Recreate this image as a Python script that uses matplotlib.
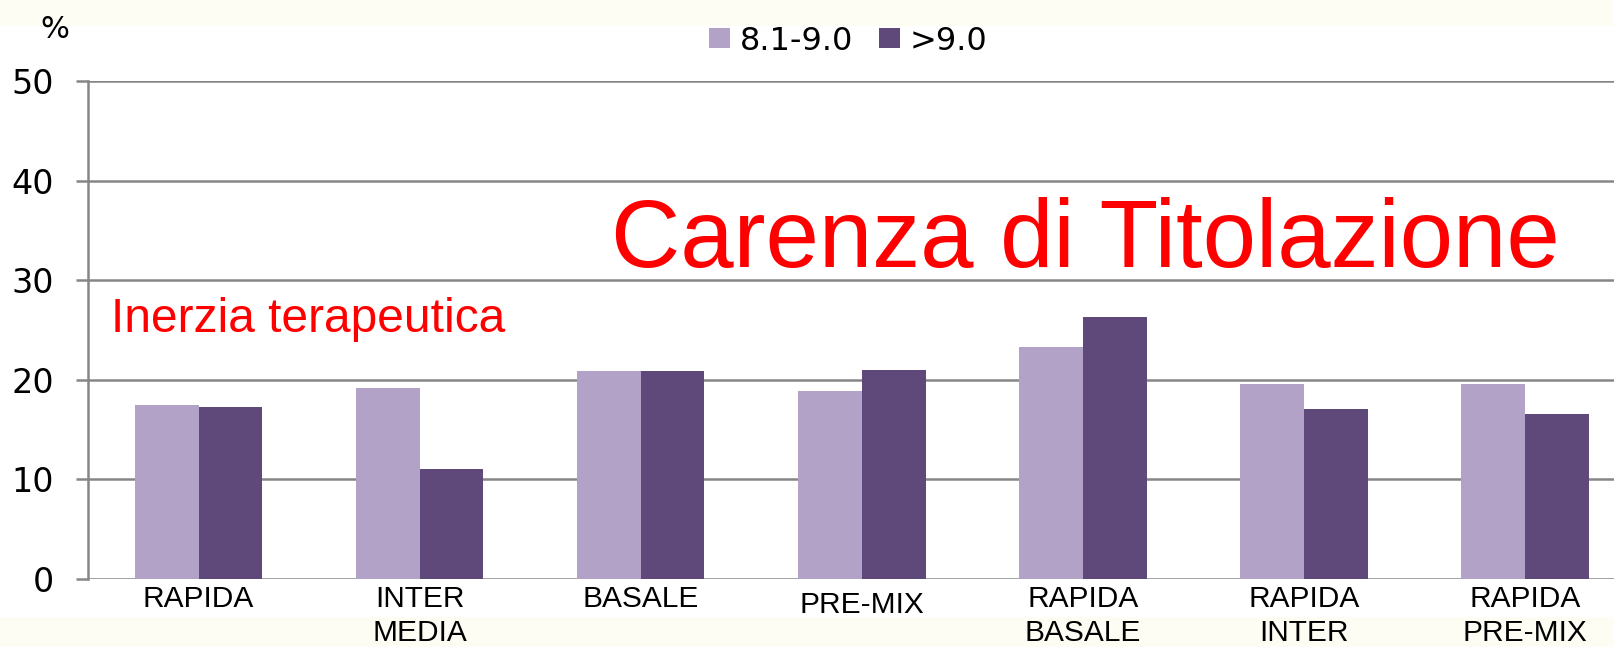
import matplotlib
matplotlib.use("Agg")
import matplotlib.pyplot as plt
from matplotlib.patches import Rectangle
from matplotlib.transforms import ScaledTranslation
import numpy as np

categories = ["RAPIDA", "INTER\nMEDIA", "BASALE", "PRE-MIX", "RAPIDA\nBASALE", "RAPIDA\nINTER", "RAPIDA\nPRE-MIX"]
series_labels = ["8.1-9.0", ">9.0"]
values_81_90 = [17.5, 19.2, 20.9, 18.9, 23.3, 19.6, 19.6]
values_gt90 = [17.3, 11.0, 20.9, 21.0, 26.3, 17.1, 16.6]
yticks = [0, 10, 20, 30, 40, 50]

light = "#b2a2c7"
dark = "#5f497a"
grid = "#868686"
cream = "#fdfdf3"

W, H = 1615, 647
fig = plt.figure(figsize=(W / 100, H / 100), dpi=100, facecolor="white")

# cream slide bands
fig.patches.append(Rectangle((0, 1 - 26 / H), 1, 26 / H, transform=fig.transFigure,
                             facecolor=cream, edgecolor="none", zorder=-10))
fig.patches.append(Rectangle((0, 0), 1, 30 / H, transform=fig.transFigure,
                             facecolor=cream, edgecolor="none", zorder=-10))

left, right = 88, 1615
top, bottom = 81, 579
ax = fig.add_axes([left / W, 1 - bottom / H, (right - left) / W, (bottom - top) / H])
ax.set_facecolor("none")

x = np.arange(len(categories))
w = 0.288
ax.bar(x - w / 2, values_81_90, width=w, color=light, label=series_labels[0], zorder=3)
ax.bar(x + w / 2, values_gt90, width=w, color=dark, label=series_labels[1], zorder=3)

ax.set_xlim(-0.5, -0.5 + (right - left) / 221.1)
ax.set_ylim(0, 50)
ax.set_yticks(yticks)
ax.set_yticklabels([str(v) for v in yticks], fontsize=24, family="DejaVu Sans")
ax.set_xticks(x)
ax.set_xticklabels(categories, fontsize=21.5, family="Liberation Sans", linespacing=1.27)
ax.tick_params(axis="x", length=0, pad=4.5)
ax.tick_params(axis="y", length=8.6, width=1.8, color=grid, pad=16)

# single-line PRE-MIX label sits slightly lower in the original
lab = ax.get_xticklabels()[3]
lab.set_transform(lab.get_transform() + ScaledTranslation(0, -6 / 100, fig.dpi_scale_trans))

for s in ["top", "right", "bottom"]:
    ax.spines[s].set_visible(False)
ax.spines["left"].set_color(grid)
ax.spines["left"].set_linewidth(1.8)
ax.yaxis.grid(True, color=grid, linewidth=1.8, zorder=1)
ax.set_axisbelow(True)

fig.text(55 / W, 1 - 29 / H, "%", fontsize=22, family="DejaVu Sans", ha="center", va="center")

leg = fig.legend(loc="center", bbox_to_anchor=(848 / W, 1 - 41 / H), ncol=2, frameon=False,
                 prop={"family": "DejaVu Sans", "size": 23},
                 handlelength=0.66, handleheight=0.6, handletextpad=0.3, columnspacing=0.8)

fig.text(611 / W, 1 - 267 / H, "Carenza di Titolazione", fontsize=69, color="#ff0000",
         family="Liberation Sans", ha="left", va="baseline")
fig.text(111 / W, 1 - 331.5 / H, "Inerzia terapeutica", fontsize=34.5, color="#ff0000",
         family="Liberation Sans", ha="left", va="baseline")

fig.savefig("out.png", dpi=100, facecolor="white")
